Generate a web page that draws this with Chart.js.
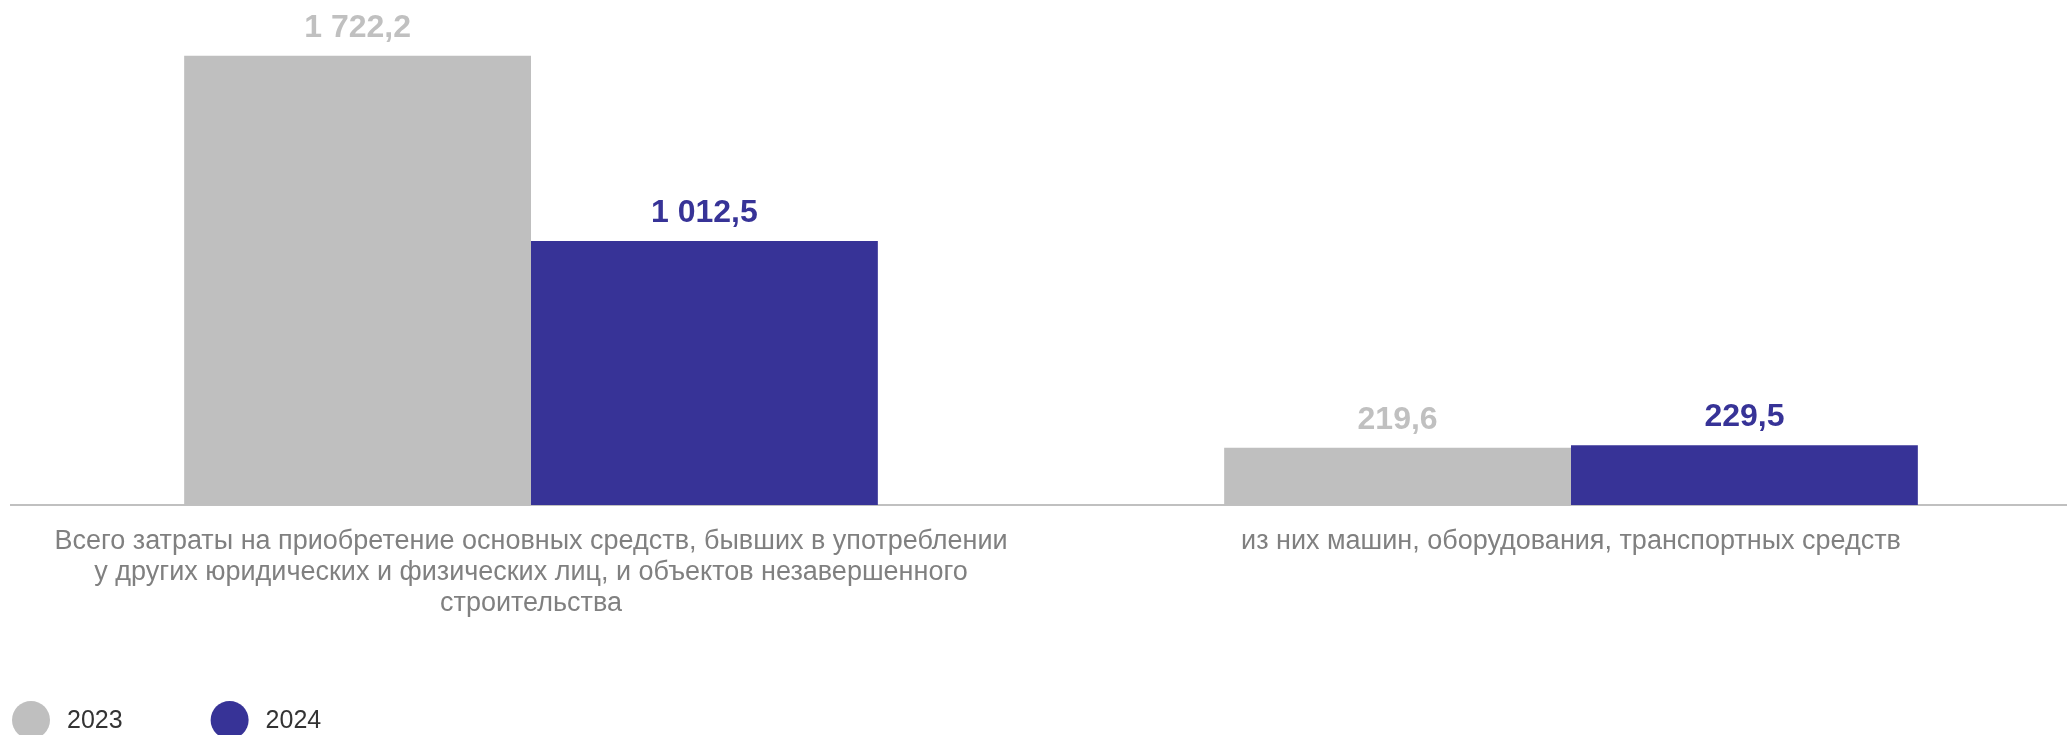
<!DOCTYPE html>
<html>
<head>
<meta charset="utf-8">
<script src="https://cdn.jsdelivr.net/npm/chart.js@4"></script>
<style>
    html, body { margin: 0; padding: 0; overflow: hidden; background: #fff; }
    #wrap { width: 2100px; height: 735px; position: relative; }
</style>
</head>
<body>
<div id="wrap"><canvas id="resultChart"></canvas></div>
<script>
    var categories = [
        ["Всего затраты на приобретение основных средств, бывших в употреблении",
         "у других юридических и физических лиц, и объектов незавершенного",
         "строительства"],
        "из них машин, оборудования, транспортных средств"
    ];
    var seriesNames = ["2023", "2024"];
    var values2023 = [1722.2, 219.6];
    var values2024 = [1012.5, 229.5];
    var barColors = ["#bfbfbf", "#373397"];
    var labelColors = ["#c0c0c0", "#373397"];

    function formatValue(v) {
        var parts = v.toFixed(1).split(".");
        return parts[0].replace(/\B(?=(\d{3})+(?!\d))/g, " ") + "," + parts[1];
    }

    //value labels above bars
    var valueLabels = {
        id: "valueLabels",
        afterDatasetsDraw: function (chart) {
            var ctx = chart.ctx;
            ctx.save();
            ctx.font = "bold 32px 'Liberation Sans', Arial, sans-serif";
            ctx.textAlign = "center";
            ctx.textBaseline = "alphabetic";
            chart.data.datasets.forEach(function (ds, i) {
                var meta = chart.getDatasetMeta(i);
                ctx.fillStyle = labelColors[i];
                meta.data.forEach(function (bar, j) {
                    ctx.fillText(formatValue(ds.data[j]), bar.x, bar.y - 19);
                });
            });
            ctx.restore();
        }
    };

    //legend at the bottom left
    var bottomLegend = {
        id: "bottomLegend",
        afterDraw: function (chart) {
            var ctx = chart.ctx;
            var r = 19;
            var x = 12;
            var cy = chart.height - 15;
            ctx.save();
            ctx.font = "25px 'Liberation Sans', Arial, sans-serif";
            ctx.textBaseline = "middle";
            ctx.textAlign = "left";
            chart.data.datasets.forEach(function (ds, i) {
                ctx.fillStyle = ds.backgroundColor;
                ctx.beginPath();
                ctx.arc(x + r, cy, r, 0, Math.PI * 2);
                ctx.fill();
                ctx.fillStyle = "#333333";
                ctx.fillText(ds.label, x + 2 * r + 17, cy + 1);
                x += 2 * r + 17 + ctx.measureText(ds.label).width + 88;
            });
            ctx.restore();
        }
    };

    var ctx = document.getElementById("resultChart");

    var barChart = new Chart(ctx, {
        type: "bar",
        data: {
            labels: categories,
            datasets: [{
                label: seriesNames[0],
                data: values2023,
                backgroundColor: barColors[0],
                borderWidth: 0,
                barPercentage: 1,
                categoryPercentage: 0.667
            }, {
                label: seriesNames[1],
                data: values2024,
                backgroundColor: barColors[1],
                borderWidth: 0,
                barPercentage: 1,
                categoryPercentage: 0.667
            }]
        },
        options: {
            responsive: true,
            maintainAspectRatio: false,
            animation: false,
            layout: { padding: { left: 11, right: 9, top: 0, bottom: 0 } },
            plugins: {
                legend: { display: false },
                tooltip: { enabled: false }
            },
            scales: {
                y: { display: false, min: 0, max: 1936 },
                x: {
                    grid: { display: false, drawTicks: false },
                    border: { display: true, color: "#c0c0c0", width: 2 },
                    ticks: {
                        color: "#808080",
                        font: { family: "'Liberation Sans', Arial, sans-serif", size: 27, lineHeight: 1.15 },
                        padding: 21,
                        maxRotation: 0,
                        autoSkip: false
                    },
                    afterFit: function (scale) {
                        scale.height = 230;
                    }
                }
            }
        },
        plugins: [valueLabels, bottomLegend]
    });
</script>
</body>
</html>
